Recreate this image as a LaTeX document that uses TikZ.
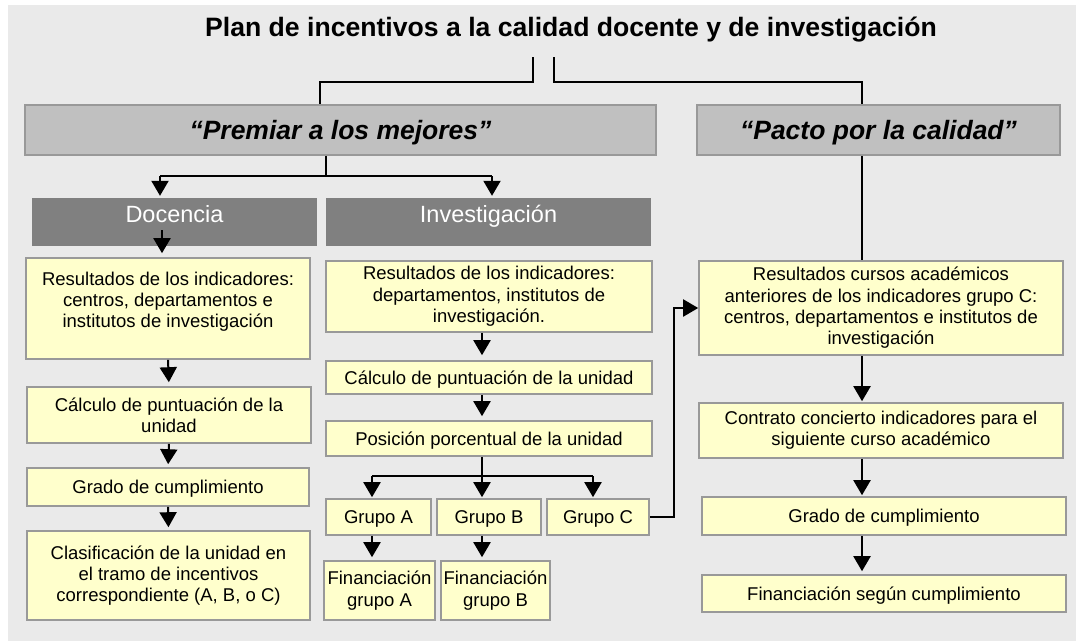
\documentclass[tikz,border=0pt]{standalone}
\usepackage{fontspec}
\setmainfont{Liberation Sans}
\usetikzlibrary{arrows.meta}
\definecolor{bg}{HTML}{EAEAEA}
\definecolor{yel}{HTML}{FFFFCC}
\definecolor{bord}{HTML}{999999}
\definecolor{hdr}{HTML}{C0C0C0}
\definecolor{darkhdr}{HTML}{808080}
\begin{document}
\begin{tikzpicture}[x=1pt,y=-1pt,
  ybox/.style={draw=bord, line width=1.6pt, fill=yel, inner sep=1pt, align=center,
    font=\fontsize{18.5}{21.3}\selectfont},
  one/.style={text height=13.3pt, text depth=0pt},
  hbox/.style={draw=bord, line width=1.6pt, fill=hdr, inner sep=0pt,
    font=\fontsize{26.5}{30}\selectfont\bfseries\itshape, text height=19pt, text depth=0pt},
  dbox/.style={fill=darkhdr, inner sep=0pt, text=white,
    font=\fontsize{23.5}{27}\selectfont, text height=17pt, text depth=17pt},
  conn/.style={line width=2pt, draw=black},
  arr/.style={conn, -{Triangle[width=17pt,length=15pt]}},
]
\useasboundingbox (0,0) rectangle (1076,641);
\fill[bg] (8,5) rectangle (1076,641);

% title
\node[font=\fontsize{26.6}{30}\selectfont\bfseries, anchor=base, inner sep=0pt] (title) at (571,36)
  {Plan de incentivos a la calidad docente y de investigación};

% headers
\node[hbox, minimum width=631pt, minimum height=50pt] (prem) at (340.5,130) {“Premiar a los mejores”};
\node[hbox, minimum width=363pt, minimum height=50pt] (pacto) at (878.5,130) {“Pacto por la calidad”};
\node[dbox, minimum width=285pt, minimum height=48pt] (doc) at (174.5,222) {Docencia};
\node[dbox, minimum width=325pt, minimum height=48pt] (inv) at (488.5,222) {Investigación};

% Docencia column
\node[ybox, minimum width=284pt, minimum height=101pt] (d1) at (168,308.5)
  {Resultados de los indicadores:\\centros, departamentos e\\institutos de investigación\\[-4pt]~};
\node[ybox, minimum width=284pt, minimum height=56pt] (d2) at (169,415)
  {Cálculo de puntuación de la\\unidad};
\node[ybox, one, minimum width=282pt, minimum height=38pt] (d3) at (168,487)
  {Grado de cumplimiento};
\node[ybox, minimum width=283pt, minimum height=89pt] (d4) at (168.5,575.5)
  {Clasificación de la unidad en\\el tramo de incentivos\\correspondiente (A, B, o C)};

% Investigacion column
\node[ybox, minimum width=326pt, minimum height=71pt] (i1) at (489,296.5)
  {Resultados de los indicadores:\\departamentos, institutos de\\investigación.};
\node[ybox, one, minimum width=326pt, minimum height=33pt] (i2) at (489,377.5)
  {Cálculo de puntuación de la unidad};
\node[ybox, one, minimum width=326pt, minimum height=35pt] (i3) at (489,438.5)
  {Posición porcentual de la unidad};
\node[ybox, one, minimum width=105pt, minimum height=36pt] (ga) at (378.5,517) {Grupo A};
\node[ybox, one, minimum width=104pt, minimum height=36pt] (gb) at (489,517) {Grupo B};
\node[ybox, one, minimum width=102pt, minimum height=36pt] (gc) at (598,517) {Grupo C};
\node[ybox, minimum width=111pt, minimum height=59pt] (fa) at (379.5,590.5) {Financiación\\grupo A};
\node[ybox, minimum width=109pt, minimum height=59pt] (fb) at (495.5,590.5) {Financiación\\grupo B};

% Pacto column
\node[ybox, minimum width=364pt, minimum height=94pt] (p1) at (881,308)
  {Resultados cursos académicos\\anteriores de los indicadores grupo C:\\centros, departamentos e institutos de\\investigación};
\node[ybox, minimum width=364pt, minimum height=55pt] (p2) at (881,430.5)
  {Contrato concierto indicadores para el\\siguiente curso académico};
\node[ybox, one, minimum width=364pt, minimum height=38pt] (p3) at (884,516)
  {Grado de cumplimiento};
\node[ybox, one, minimum width=364pt, minimum height=37pt] (p4) at (884,593.5)
  {Financiación según cumplimiento};

% coordinates
\coordinate (tl) at (533,57);
\coordinate (tr) at (554,57);
\coordinate (jl) at (320,82);
\coordinate (jr) at (862,82);
\coordinate (ps) at (326,176);
\coordinate (psl) at (160,176);
\coordinate (psr) at (492,176);
\coordinate (dstart) at (162,230);
\coordinate (ix) at (482,0);
\coordinate (isp) at (482,476);
\coordinate (isl) at (372,476);
\coordinate (isr) at (593,476);
\coordinate (gcbend) at (674,517);
\coordinate (px) at (862,0);

% title connectors
\draw[conn] (tl) |- (jl) -- (jl |- prem.north);
\draw[conn] (tr) |- (jr) -- (jr |- pacto.north);

% Premiar split
\draw[conn] (prem.south -| ps) -- (ps);
\draw[conn] (psl) -- (psr);
\draw[arr, shorten >=2pt] (psl) -- (psl |- doc.north);
\draw[arr, shorten >=2pt] (psr) -- (psr |- inv.north);

% Docencia arrows
\draw[arr, shorten >=4pt] (dstart) -- (dstart |- d1.north);
\draw[arr, shorten >=4pt] (d1.south) -- (d2.north);
\draw[arr, shorten >=3pt] (d2.south) -- (d3.north);
\draw[arr, shorten >=3pt] (d3.south) -- (d4.north);

% Investigacion arrows
\draw[arr, shorten >=5pt] (i1.south -| ix) -- (i2.north -| ix);
\draw[arr, shorten >=4pt] (i2.south -| ix) -- (i3.north -| ix);
\draw[conn] (i3.south -| ix) -- (isp);
\draw[conn] (isl) -- (isr);
\draw[arr, shorten >=1pt] (isl) -- (isl |- ga.north);
\draw[arr, shorten >=1pt] (isp) -- (isp |- gb.north);
\draw[arr, shorten >=1pt] (isr) -- (isr |- gc.north);
\draw[arr, shorten >=3pt] (ga.south -| isl) -- (fa.north -| isl);
\draw[arr, shorten >=3pt] (gb.south -| isp) -- (fb.north -| isp);
\draw[arr] (gc.east) -- (gcbend) |- (p1.west);

% Pacto arrows
\draw[conn] (pacto.south -| px) -- (p1.north -| px);
\draw[arr, shorten >=1pt] (p1.south -| px) -- (p2.north -| px);
\draw[arr, shorten >=1pt] (p2.south -| px) -- (p3.north -| px);
\draw[arr, shorten >=3pt] (p3.south -| px) -- (p4.north -| px);
\end{tikzpicture}
\end{document}
